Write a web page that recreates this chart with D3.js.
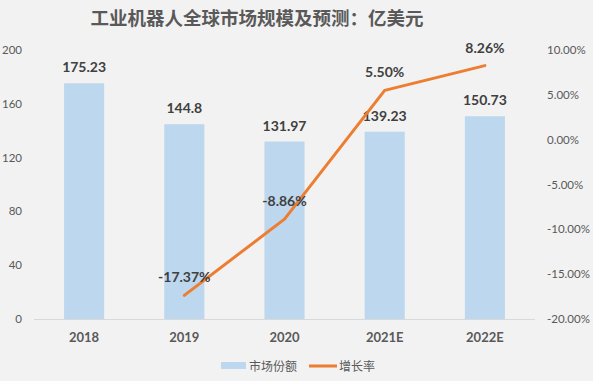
<!DOCTYPE html>
<html lang="zh">
<head>
<meta charset="UTF-8">
<title>工业机器人全球市场规模及预测</title>
<script src="https://d3js.org/d3.v7.min.js"></script>
<style>
    body {margin: 0; background: #f2f2f2;}
    svg {display: block; background: #f2f2f2;}
    .tick-label {fill: #595959; font-family: Lato, "Noto Sans", sans-serif; font-size: 11.5px;}
    .cat-label {fill: #595959; font-family: Lato, "Noto Sans", sans-serif; font-size: 13px; font-weight: bold;}
    .data-label {fill: #404040; font-family: Lato, "Noto Sans", sans-serif; font-size: 14px; font-weight: bold;}
    .title {fill: #595959; font-family: "Noto Sans CJK SC", sans-serif; font-size: 18.5px; font-weight: bold;}
    .legend-text {fill: #595959; font-family: "Noto Sans CJK SC", sans-serif; font-size: 12px;}
</style>
</head>
<body>
<div id="chart"></div>
<script>
    // data
    var categories = ["2018", "2019", "2020", "2021E", "2022E"];
    var marketSize = [175.23, 144.8, 131.97, 139.23, 150.73];
    var growth = [null, -17.37, -8.86, 5.50, 8.26];   // %
    var leftTicks = [0, 40, 80, 120, 160, 200];
    var rightTicks = [-20, -15, -10, -5, 0, 5, 10];
    var legendNames = ["市场份额", "增长率"];

    var W = 593, H = 381;
    var margin = {top: 50, right: 58, bottom: 62, left: 34};
    var width = W - margin.left - margin.right,
        height = H - margin.top - margin.bottom;

    // plain hyphen minus, like the original
    function pct(d) {return d.toFixed(2) + "%"}

    var svg = d3.select("#chart").append("svg")
        .attr("width", W)
        .attr("height", H);

    svg.append("text")
        .attr("class", "title")
        .attr("x", 257)
        .attr("y", 25)
        .attr("text-anchor", "middle")
        .text("工业机器人全球市场规模及预测：亿美元");

    var g = svg.append("g")
        .attr("transform", "translate(" + margin.left + "," + margin.top + ")");

    var x = d3.scaleBand()
        .domain(categories)
        .range([0, width])
        .paddingInner(0.6)
        .paddingOuter(0.3);

    var yL = d3.scaleLinear().domain([0, 200]).range([height, 0]);
    var yR = d3.scaleLinear().domain([-20, 10]).range([height, 0]);

    // left axis labels
    g.selectAll(".ltick")
        .data(leftTicks)
        .enter().append("text")
        .attr("class", "tick-label")
        .attr("x", -12)
        .attr("y", function(d) {return yL(d)})
        .attr("dy", "0.35em")
        .attr("text-anchor", "end")
        .text(function(d) {return d});

    // right axis labels
    g.selectAll(".rtick")
        .data(rightTicks)
        .enter().append("text")
        .attr("class", "tick-label")
        .attr("x", width + 12)
        .attr("y", function(d) {return yR(d)})
        .attr("dy", "0.35em")
        .attr("text-anchor", "start")
        .text(pct);

    // bars
    g.selectAll(".bar")
        .data(marketSize)
        .enter().append("rect")
        .attr("x", function(d, i) {return x(categories[i])})
        .attr("width", x.bandwidth())
        .attr("y", function(d) {return yL(d)})
        .attr("height", function(d) {return height - yL(d)})
        .attr("fill", "#bdd7ee");

    // baseline
    g.append("line")
        .attr("x1", 0).attr("x2", width)
        .attr("y1", height + 0.5).attr("y2", height + 0.5)
        .attr("stroke", "#d9d9d9")
        .attr("stroke-width", 1);

    // category labels
    g.selectAll(".cat")
        .data(categories)
        .enter().append("text")
        .attr("class", "cat-label")
        .attr("x", function(d) {return x(d) + x.bandwidth() / 2})
        .attr("y", height + 23)
        .attr("text-anchor", "middle")
        .text(function(d) {return d});

    // bar labels
    g.selectAll(".blabel")
        .data(marketSize)
        .enter().append("text")
        .attr("class", "data-label")
        .attr("x", function(d, i) {return x(categories[i]) + x.bandwidth() / 2})
        .attr("y", function(d) {return yL(d) - 11})
        .attr("text-anchor", "middle")
        .text(function(d) {return d});

    // growth line
    var pts = growth.map(function(d, i) {return {c: categories[i], v: d}})
        .filter(function(d) {return d.v !== null});

    var line = d3.line()
        .x(function(d) {return x(d.c) + x.bandwidth() / 2})
        .y(function(d) {return yR(d.v)});

    g.append("path")
        .datum(pts)
        .attr("d", line)
        .attr("fill", "none")
        .attr("stroke", "#ed7d31")
        .attr("stroke-width", 3)
        .attr("stroke-linejoin", "round")
        .attr("stroke-linecap", "round");

    g.selectAll(".llabel")
        .data(pts)
        .enter().append("text")
        .attr("class", "data-label")
        .attr("x", function(d) {return x(d.c) + x.bandwidth() / 2})
        .attr("y", function(d) {return yR(d.v) - 13})
        .attr("text-anchor", "middle")
        .text(function(d) {return pct(d.v)});

    // legend
    var leg = svg.append("g").attr("transform", "translate(221,366)");
    leg.append("rect")
        .attr("x", 0).attr("y", -4)
        .attr("width", 25).attr("height", 7)
        .attr("fill", "#bdd7ee");
    leg.append("text")
        .attr("class", "legend-text")
        .attr("x", 28).attr("y", 0)
        .attr("dy", "0.38em")
        .text(legendNames[0]);
    leg.append("line")
        .attr("x1", 88).attr("x2", 116)
        .attr("y1", 0).attr("y2", 0)
        .attr("stroke", "#ed7d31")
        .attr("stroke-width", 3);
    leg.append("text")
        .attr("class", "legend-text")
        .attr("x", 118).attr("y", 0)
        .attr("dy", "0.38em")
        .text(legendNames[1]);
</script>
</body>
</html>
